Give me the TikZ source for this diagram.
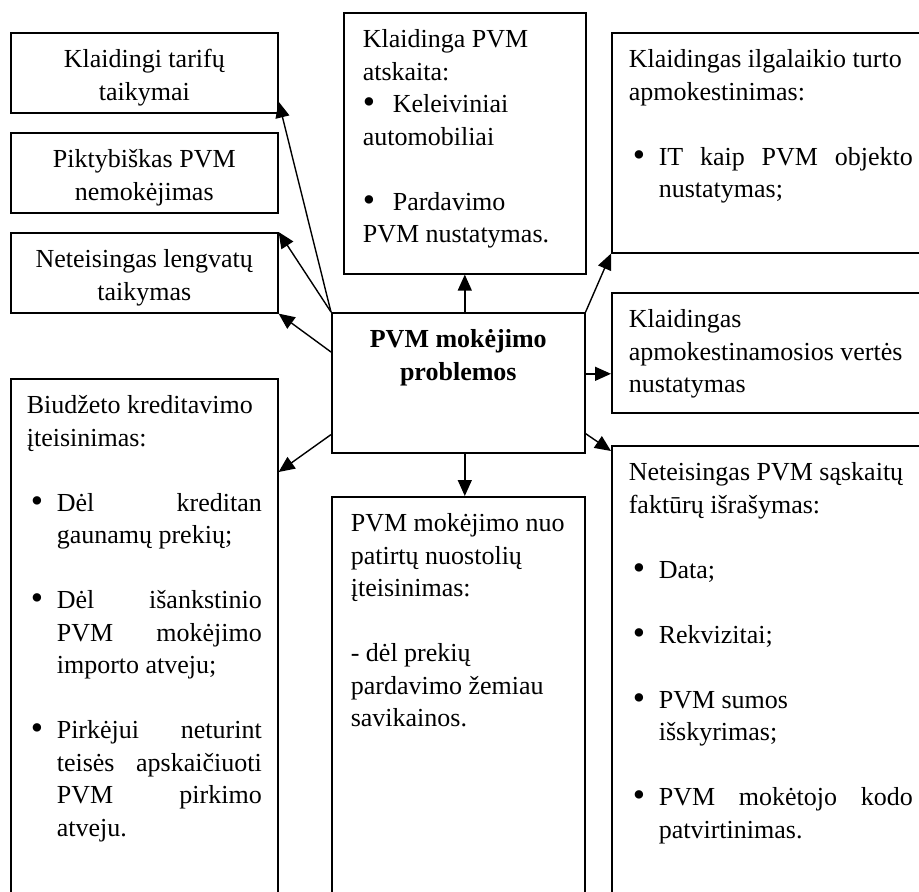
\documentclass[tikz,border=0pt]{standalone}
\usepackage{fontspec}
\setmainfont{Liberation Serif}
\usetikzlibrary{arrows.meta, positioning, calc}
\tolerance=10000
\hbadness=10000
\hyphenpenalty=10000

\newcommand{\boxbody}[3]{\begin{minipage}[t][#1][t]{#2}\strut#3\end{minipage}}
\newcommand{\bigbullet}{\raisebox{-1pt}{\scalebox{1.35}{\textbullet}}}
\newcommand{\pvmitem}[1]{\par\hangindent=30pt\hangafter=1\noindent\makebox[30pt][l]{\hspace{4pt}\bigbullet}#1}
\newcommand{\skipline}{\par\vspace{\baselineskip}}

\tikzset{
  pbox/.style={draw, line width=1.6pt, anchor=north west, inner xsep=#1, inner ysep=12pt},
  pbox/.default=17pt,
  arr/.style={line width=1.4pt, -{Triangle[length=16pt, width=14pt]}}
}

\begin{document}
\begin{tikzpicture}[x=1pt, y=-1pt, font=\fontsize{26}{32.5}\selectfont]
  \useasboundingbox (0,0) rectangle (919,892);
  \clip (0,0) rectangle (919,892);

  % left column
  \node[pbox=0pt] (tarif) at (10,32) {\boxbody{56pt}{267pt}{\centering Klaidingi tarifų\\ taikymai}};
  \node[pbox=0pt] (pikt) at (10,132) {\boxbody{56pt}{267pt}{\centering Piktybiškas PVM\\ nemokėjimas}};
  \node[pbox=0pt] (lengv) at (10,232) {\boxbody{56pt}{267pt}{\centering Neteisingas lengvatų\\ taikymas}};
  \node[pbox=16pt] (biud) at (10,378) {\boxbody{506pt}{235pt}{Biudžeto kreditavimo\\ įteisinimas:\skipline
    \pvmitem{Dėl kreditan\linebreak gaunamų prekių;}\skipline
    \pvmitem{Dėl išankstinio\linebreak PVM mokėjimo\linebreak importo atveju;}\skipline
    \pvmitem{Pirkėjui neturint\linebreak teisės apskaičiuoti\linebreak PVM pirkimo\linebreak atveju.}}};

  % middle column
  \node[pbox=19pt] (atsk) at (343,12) {\boxbody{237pt}{204pt}{Klaidinga PVM\\ atskaita:\par
    \noindent\makebox[30pt][l]{\bigbullet}Keleiviniai\\ automobiliai\skipline
    \noindent\makebox[30pt][l]{\bigbullet}Pardavimo\\ PVM nustatymas.}};
  \node[pbox=0pt] (probl) at (331,312) {\boxbody{116pt}{253pt}{\centering\bfseries PVM mokėjimo\\ problemos}};
  \node[pbox=0pt] (nuost) at (331,496) {\boxbody{386pt}{253pt}{\leftskip=19pt PVM mokėjimo nuo\\ patirtų nuostolių\\ įteisinimas:\skipline
    - dėl prekių\\ pardavimo žemiau\\ savikainos.}};

  % right column
  \node[pbox] (ilgal) at (611,32) {\boxbody{196pt}{284pt}{Klaidingas ilgalaikio turto\\ apmokestinimas:\skipline
    \pvmitem{IT kaip PVM objekto\linebreak nustatymas;}}};
  \node[pbox] (vert) at (611,292) {\boxbody{96pt}{284pt}{Klaidingas\\ apmokestinamosios vertės\\ nustatymas}};
  \node[pbox] (sask) at (611,445) {\boxbody{436pt}{284pt}{Neteisingas PVM sąskaitų\\ faktūrų išrašymas:\skipline
    \pvmitem{Data;}\skipline
    \pvmitem{Rekvizitai;}\skipline
    \pvmitem{PVM sumos\\ išskyrimas;}\skipline
    \pvmitem{PVM mokėtojo kodo\linebreak patvirtinimas.}}};

  % connectors
  \draw[arr] (probl.north west) -- ([yshift=12pt]tarif.south east);
  \draw[arr] (probl.north west) -- (lengv.north east);
  \draw[arr] ([yshift=-40pt]probl.north west) -- (lengv.south east);
  \draw[arr] ([yshift=19pt]probl.south west) -- ([yshift=-94pt]biud.north east);
  \draw[arr] (atsk.south |- probl.north) -- (atsk.south);
  \draw[arr] (probl.north east) -- (ilgal.south west);
  \coordinate (vtip) at ($(vert.west)+(0,21)$);
  \draw[arr] (probl.east |- vtip) -- (vtip);
  \draw[arr] ([yshift=20pt]probl.south east) -- ([yshift=-6pt]sask.north west);
  \draw[arr] (atsk.south |- probl.south) -- (atsk.south |- nuost.north);
\end{tikzpicture}
\end{document}
